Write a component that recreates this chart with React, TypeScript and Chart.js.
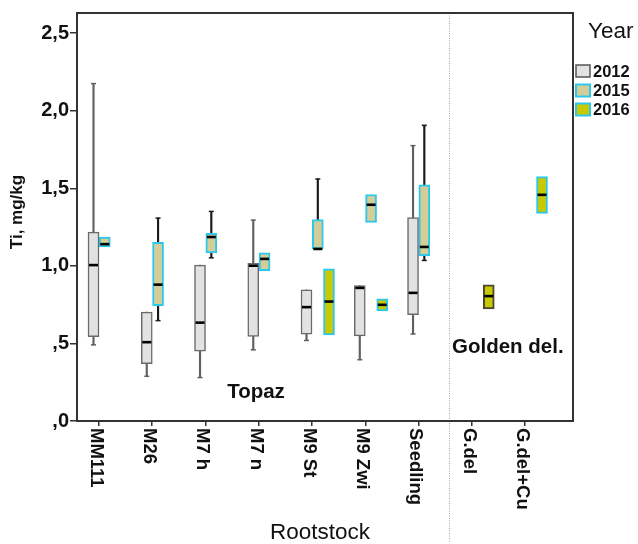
import React, { useEffect, useRef } from "react";
import { Chart, registerables } from "chart.js";

Chart.register(...registerables);

const categories = ["MM111", "M26", "M7 h", "M7 n", "M9 St", "M9 Zwi", "Seedling", "G.del", "G.del+Cu"];
const years = ["2012", "2015", "2016"];
const yTicks = [0, 0.5, 1.0, 1.5, 2.0, 2.5];

// box-plot statistics per year (null = no data)
const min2012 = [0.491, 0.288, 0.280, 0.459, 0.519, 0.395, 0.561, null, null];
const q1_2012 = [0.544, 0.369, 0.450, 0.546, 0.559, 0.549, 0.685, null, null];
const med2012 = [1.005, 0.508, 0.634, 1.001, 0.734, 0.858, 0.826, null, null];
const q3_2012 = [1.218, 0.702, 1.005, 1.016, 0.845, 0.873, 1.311, null, null];
const max2012 = [2.175, 0.702, 1.005, 1.295, 0.845, 0.873, 1.775, null, null];

const min2015 = [1.122, 0.647, 1.052, 0.969, 1.109, 1.280, 1.035, null, null];
const q1_2015 = [1.122, 0.743, 1.084, 0.969, 1.109, 1.280, 1.065, null, null];
const med2015 = [1.140, 0.879, 1.186, 1.045, 1.109, 1.394, 1.122, null, null];
const q3_2015 = [1.186, 1.152, 1.210, 1.084, 1.298, 1.460, 1.522, null, null];
const max2015 = [1.186, 1.308, 1.351, 1.084, 1.560, 1.460, 1.906, null, null];

const min2016 = [null, null, null, null, 0.555, 0.709, null, 0.723, 1.338];
const q1_2016 = [null, null, null, null, 0.555, 0.709, null, 0.723, 1.338];
const med2016 = [null, null, null, null, 0.770, 0.749, null, 0.805, 1.458];
const q3_2016 = [null, null, null, null, 0.981, 0.787, null, 0.877, 1.575];
const max2016 = [null, null, null, null, 0.981, 0.787, null, 0.877, 1.575];

const stats = [
  { min: min2012, q1: q1_2012, med: med2012, q3: q3_2012, max: max2012 },
  { min: min2015, q1: q1_2015, med: med2015, q3: q3_2015, max: max2015 },
  { min: min2016, q1: q1_2016, med: med2016, q3: q3_2016, max: max2016 },
];

const OFFSETS = [-0.103, 0.109, 0.319];
const FILLS = ["#e2e2e2", "#d5cd98", "#c9c900"];
const BORDERS = ["#6a6a6a", "#2cc8ec", "#2cc8ec"];
const WHISK = ["#606060", "#1a1a1a", "#1a1a1a"];
const FONT = "'Liberation Sans', Arial, sans-serif";

function boxData(y: number) {
  const s = stats[y];
  const out: any[] = [];
  categories.forEach((_, i) => {
    if (s.q1[i] == null) return;
    out.push({ x: i + OFFSETS[y], y: [s.q1[i], s.q3[i]], cat: i });
  });
  return out;
}
function whiskerData(y: number) {
  const s = stats[y];
  const out: any[] = [];
  categories.forEach((_, i) => {
    if (s.min[i] == null) return;
    if (s.min[i]! < s.q1[i]! || s.max[i]! > s.q3[i]!) {
      out.push({ x: i + OFFSETS[y], y: [s.min[i], s.max[i]], cat: i });
    }
  });
  return out;
}

const boxPlugin = {
  id: "boxExtras",
  beforeDatasetsDraw(chart: any) {
    const { ctx, chartArea, scales } = chart;
    const xs = scales.x;
    const dx = Math.round(xs.getPixelForValue(6.57)) + 0.5;
    ctx.save();
    ctx.strokeStyle = "#a8a8a8";
    ctx.lineWidth = 1;
    ctx.setLineDash([1, 1.5]);
    ctx.beginPath();
    ctx.moveTo(dx, chartArea.top);
    ctx.lineTo(dx, 542);
    ctx.stroke();
    ctx.restore();
  },
  afterDatasetsDraw(chart: any) {
    const { ctx, chartArea, scales } = chart;
    const xs = scales.x;
    const ys = scales.y;
    ctx.save();
    stats.forEach((s, y) => {
      categories.forEach((_, i) => {
        if (s.med[i] == null) return;
        const cx = xs.getPixelForValue(i + OFFSETS[y]);
        ctx.strokeStyle = WHISK[y];
        ctx.lineWidth = 1.5;
        if (s.max[i]! > s.q3[i]!) {
          const py = ys.getPixelForValue(s.max[i]);
          ctx.beginPath();
          ctx.moveTo(cx - 2.5, py);
          ctx.lineTo(cx + 2.5, py);
          ctx.stroke();
        }
        if (s.min[i]! < s.q1[i]!) {
          const py = ys.getPixelForValue(s.min[i]);
          ctx.beginPath();
          ctx.moveTo(cx - 2.5, py);
          ctx.lineTo(cx + 2.5, py);
          ctx.stroke();
        }
        const my = ys.getPixelForValue(s.med[i]);
        ctx.strokeStyle = "#000";
        ctx.lineWidth = 2.6;
        ctx.beginPath();
        ctx.moveTo(cx - 4.5, my);
        ctx.lineTo(cx + 4.5, my);
        ctx.stroke();
      });
    });
    ctx.strokeStyle = "#333";
    ctx.lineWidth = 2;
    ctx.strokeRect(chartArea.left, chartArea.top, chartArea.right - chartArea.left, chartArea.bottom - chartArea.top);
    ctx.restore();
  },
  afterDraw(chart: any) {
    const { ctx, chartArea, scales } = chart;
    const xs = scales.x;
    ctx.save();
    ctx.fillStyle = "#111";
    ctx.font = `bold 18.5px ${FONT}`;
    categories.forEach((c, i) => {
      const px = xs.getPixelForValue(i);
      ctx.save();
      ctx.translate(px - 3, chartArea.bottom + 7);
      ctx.rotate(Math.PI / 2);
      ctx.textAlign = "left";
      ctx.textBaseline = "middle";
      ctx.fillText(c, 0, 0);
      ctx.restore();
    });
    ctx.font = `22.5px ${FONT}`;
    ctx.textAlign = "center";
    ctx.textBaseline = "alphabetic";
    ctx.fillText("Rootstock", 320, 539);
    ctx.save();
    ctx.translate(17, 212);
    ctx.rotate(-Math.PI / 2);
    ctx.font = `bold 17px ${FONT}`;
    ctx.textBaseline = "middle";
    ctx.fillText("Ti, mg/kg", 0, 0);
    ctx.restore();
    ctx.font = `bold 20.5px ${FONT}`;
    ctx.textAlign = "center";
    ctx.fillText("Topaz", 256, 398);
    ctx.textAlign = "left";
    ctx.fillText("Golden del.", 452, 353);
    ctx.font = `22.5px ${FONT}`;
    ctx.fillText("Year", 588, 38);
    const ly = [71, 90.5, 109.5];
    years.forEach((yr, k) => {
      ctx.fillStyle = FILLS[k];
      ctx.fillRect(576, ly[k] - 6, 14, 12);
      ctx.strokeStyle = k === 0 ? "#555" : BORDERS[k];
      ctx.lineWidth = k === 0 ? 1.5 : 2;
      ctx.strokeRect(576, ly[k] - 6, 14, 12);
      ctx.fillStyle = "#111";
      ctx.font = `bold 16.5px ${FONT}`;
      ctx.textBaseline = "middle";
      ctx.fillText(yr, 593, ly[k] + 1);
      ctx.textBaseline = "alphabetic";
    });
    ctx.restore();
  },
};

export default function App() {
  const ref = useRef<HTMLCanvasElement>(null);
  useEffect(() => {
    if (!ref.current) return;
    const datasets: any[] = [];
    years.forEach((yr, y) => {
      datasets.push({
        label: yr + " whisker",
        data: whiskerData(y),
        backgroundColor: WHISK[y],
        borderWidth: 0,
        barThickness: 1.5,
        grouped: false,
        order: 3,
      });
    });
    years.forEach((yr, y) => {
      datasets.push({
        label: yr,
        data: boxData(y),
        backgroundColor: FILLS[y],
        borderColor: (c: any) => (y === 2 && c.raw && c.raw.cat === 7 ? "#4a4630" : BORDERS[y]),
        borderWidth: y === 0 ? 1.5 : 2,
        borderSkipped: false,
        barThickness: 11,
        grouped: false,
        order: 1,
      });
    });
    const chart = new Chart(ref.current, {
      type: "bar",
      data: { datasets },
      options: {
        responsive: false,
        devicePixelRatio: 1,
        animation: false,
        layout: { padding: { left: 0, top: 11, right: 65, bottom: 0 } },
        plugins: { legend: { display: false }, tooltip: { enabled: false } },
        scales: {
          x: {
            type: "linear",
            offset: false,
            min: -0.413,
            max: 8.901,
            afterBuildTicks: (s: any) => {
              s.ticks = categories.map((_, i) => ({ value: i }));
            },
            afterFit: (s: any) => {
              s.height = 123;
            },
            ticks: { display: false },
            grid: { offset: false, drawOnChartArea: false, drawTicks: true, tickLength: 5, color: "#333", lineWidth: 1.5 },
            border: { display: false },
          },
          y: {
            type: "linear",
            min: 0,
            max: 2.63,
            afterBuildTicks: (s: any) => {
              s.ticks = yTicks.map((v) => ({ value: v }));
            },
            afterFit: (s: any) => {
              s.width = 77;
            },
            ticks: {
              padding: 1,
              color: "#111",
              font: { family: FONT, size: 20, weight: "bold" },
              callback: (v: any) => Number(v).toFixed(1).replace(".", ",").replace(/^0/, ""),
            },
            grid: { drawOnChartArea: false, drawTicks: true, tickLength: 7, color: "#333", lineWidth: 1.5 },
            border: { display: false },
          },
        },
      },
      plugins: [boxPlugin],
    });
    return () => chart.destroy();
  }, []);
  return (
    <div style={{ position: "absolute", left: 0, top: 0, width: 638, height: 544, background: "#fff" }}>
      <canvas ref={ref} width={638} height={544} style={{ display: "block" }} />
    </div>
  );
}
